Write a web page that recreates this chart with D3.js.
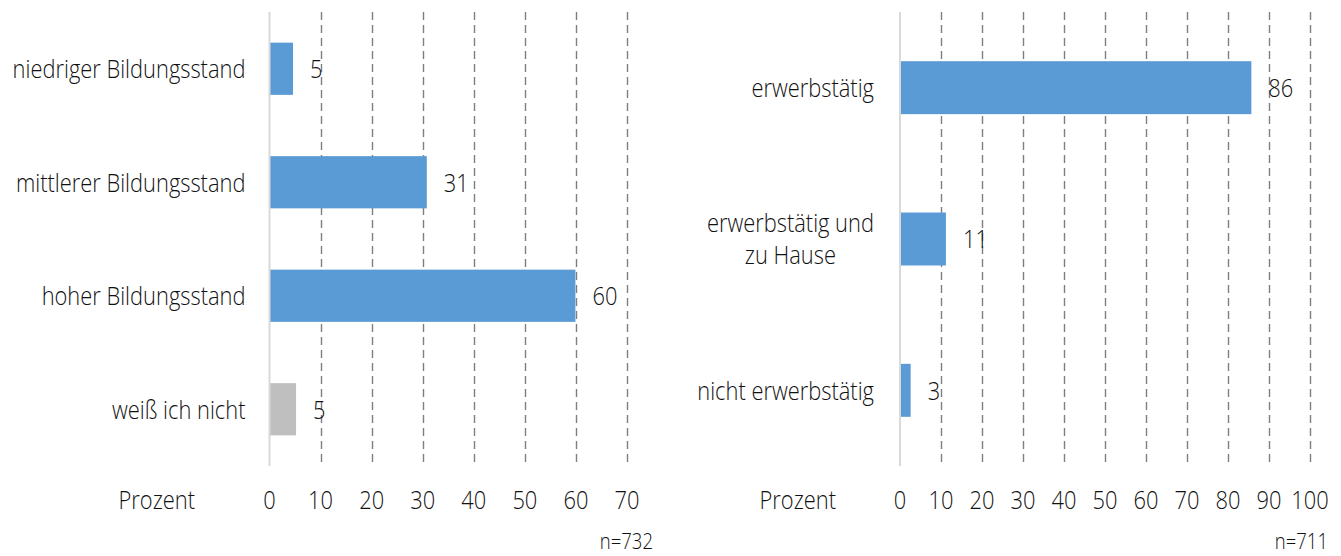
<!DOCTYPE html>
<html>
<head>
<meta charset="utf-8">
<script src="https://cdn.jsdelivr.net/npm/d3@7"></script>
<style>
	body { margin:0; background:#fff; }
	text { font-family: "Open Sans", "Noto Sans", sans-serif; font-weight:300; fill:#111; }
</style>
</head>
<body>
<div id="chart-area"></div>
<script>
// Left panel: Bildungsstand
var bildungCats = ["niedriger Bildungsstand", "mittlerer Bildungsstand", "hoher Bildungsstand", "weiß ich nicht"];
var bildungValues = [4.6, 30.8, 59.9, 5.2];
var bildungLabels = ["5", "31", "60", "5"];
var bildungColors = ["#5b9bd5", "#5b9bd5", "#5b9bd5", "#bfbfbf"];
var bildungTicks = [0, 10, 20, 30, 40, 50, 60, 70];

// Right panel: Erwerbstätigkeit
var erwerbCats = [["erwerbstätig"], ["erwerbstätig und", "zu Hause"], ["nicht erwerbstätig"]];
var erwerbValues = [85.7, 11.2, 2.6];
var erwerbLabels = ["86", "11", "3"];
var erwerbColors = ["#5b9bd5", "#5b9bd5", "#5b9bd5"];
var erwerbTicks = [0, 10, 20, 30, 40, 50, 60, 70, 80, 90, 100];

var width = 1341;
var height = 556;

var svg = d3.select("#chart-area")
	.append("svg")
		.attr("width", width)
		.attr("height", height);

// the original font is a condensed one, we squeeze a normal font horizontally
var probe = svg.append("text").attr("font-size", "26px").text("niedriger Bildungsstand");
var sx = 233 / probe.node().getComputedTextLength();
probe.remove();

function squeeze(sel, xf, yf){
	sel.attr("transform", function(d, i){
		return "translate(" + xf(d, i) + "," + yf(d, i) + ") scale(" + sx + ",1)";
	});
}

function panel(opts){
	var g = svg.append("g");

	var x = d3.scaleLinear()
		.domain([0, opts.max])
		.range(opts.xRange);

	var y = d3.scaleBand()
		.domain(d3.range(opts.values.length))
		.range([12, 466])
		.paddingInner(opts.pad)
		.paddingOuter(opts.pad / 2);

	// dashed gridlines (no line at 0, that is the axis)
	g.selectAll("line.grid")
		.data(opts.ticks.filter(function(d){ return d > 0; }))
		.enter().append("line")
			.attr("class", "grid")
			.attr("x1", function(d){ return Math.round(x(d)) + 0.5; })
			.attr("x2", function(d){ return Math.round(x(d)) + 0.5; })
			.attr("y1", 12)
			.attr("y2", 466)
			.attr("stroke", "#7f7f7f")
			.attr("stroke-width", 1.4)
			.attr("stroke-dasharray", "8,5");

	// bars
	g.selectAll("rect")
		.data(opts.values)
		.enter().append("rect")
			.attr("x", x(0))
			.attr("y", function(d, i){ return y(i); })
			.attr("width", function(d){ return x(d) - x(0); })
			.attr("height", y.bandwidth())
			.attr("fill", function(d, i){ return opts.colors[i]; });

	// axis line at 0
	g.append("line")
		.attr("x1", x(0)).attr("x2", x(0))
		.attr("y1", 12).attr("y2", 466)
		.attr("stroke", "#d9d9d9")
		.attr("stroke-width", 2);

	// value labels
	var vals = g.selectAll("text.value")
		.data(opts.values)
		.enter().append("text")
			.attr("class", "value")
			.attr("dy", "0.36em")
			.attr("font-size", "26px")
			.text(function(d, i){ return opts.labels[i]; });
	squeeze(vals, function(d){ return x(d) + 17; }, function(d, i){ return y(i) + y.bandwidth()/2; });

	// category labels, can be 2 lines
	var cats = g.selectAll("text.cat")
		.data(opts.cats)
		.enter().append("text")
			.attr("class", "cat")
			.attr("text-anchor", "middle")
			.attr("font-size", "26px");

	var widths = [];
	cats.each(function(d){
		var t = d3.select(this);
		var w = 0;
		d.forEach(function(l, j){
			var ts = t.append("tspan")
				.attr("x", 0)
				.attr("dy", j == 0 ? (0.36 - (d.length - 1) * 0.62) + "em" : "1.24em")
				.text(l);
			w = Math.max(w, ts.node().getComputedTextLength());
		});
		widths.push(w * sx);
	});
	// block is right aligned, its lines centered
	squeeze(cats, function(d, i){ return x(0) - opts.catGap - widths[i]/2; },
		function(d, i){ return y(i) + y.bandwidth()/2; });

	// tick labels
	var ticks = g.selectAll("text.tick")
		.data(opts.ticks)
		.enter().append("text")
			.attr("class", "tick")
			.attr("text-anchor", "middle")
			.attr("font-size", "26px")
			.text(function(d){ return d; });
	squeeze(ticks, function(d){ return x(d); }, function(){ return 509; });

	var pz = g.append("text")
		.datum(0)
		.attr("text-anchor", "end")
		.attr("font-size", "26px")
		.text("Prozent");
	squeeze(pz, function(){ return opts.prozentX; }, function(){ return 509; });

	var nn = g.append("text")
		.datum(0)
		.attr("text-anchor", "end")
		.attr("font-size", "22px")
		.text(opts.n);
	squeeze(nn, function(){ return opts.nX; }, function(){ return 549; });
}

panel({
	cats: bildungCats.map(function(c){ return [c]; }), values: bildungValues, labels: bildungLabels, colors: bildungColors,
	ticks: bildungTicks, max: 70, xRange: [269.5, 627], pad: 0.54, catGap: 24,
	prozentX: 195, nX: 653, n: "n=732"
});

panel({
	cats: erwerbCats, values: erwerbValues, labels: erwerbLabels, colors: erwerbColors,
	ticks: erwerbTicks, max: 100, xRange: [900, 1310], pad: 0.65, catGap: 26,
	prozentX: 836, nX: 1328, n: "n=711"
});
</script>
</body>
</html>
